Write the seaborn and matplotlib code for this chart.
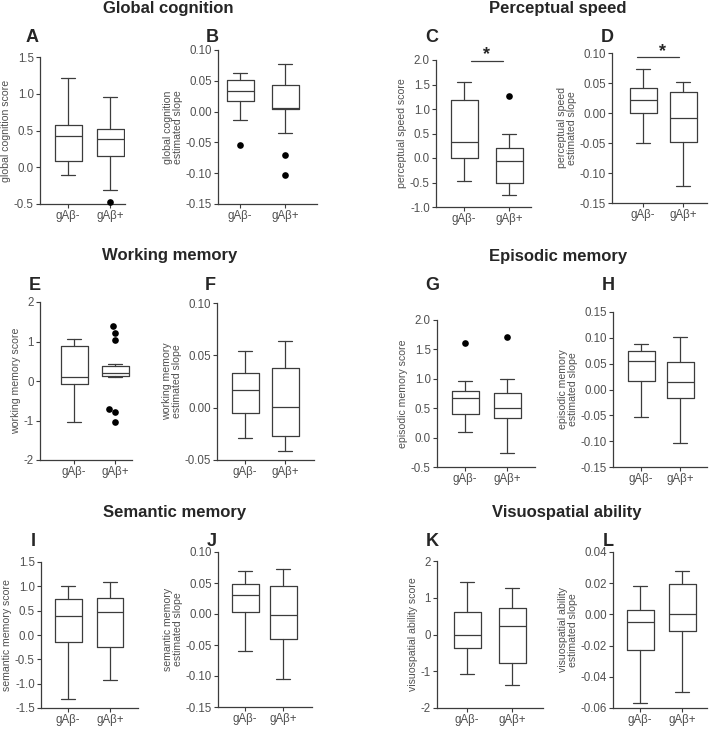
import matplotlib
matplotlib.use("Agg")
import matplotlib.pyplot as plt
import numpy as np
import pandas as pd
import seaborn as sns

# groups shown on every panel
groups = ["gAβ-", "gAβ+"]
panels = list("ABCDEFGHIJKL")

# box summaries: [gAβ-, gAβ+]
whislo = {"A": [-0.10, -0.31], "B": [-0.013, -0.034], "C": [-0.46, -0.75], "D": [-0.05, -0.122],
          "E": [-1.04, 0.11], "F": [-0.029, -0.041], "G": [0.10, -0.26], "H": [-0.054, -0.103],
          "I": [-1.31, -0.92], "J": [-0.059, -0.105], "K": [-1.07, -1.37], "L": [-0.057, -0.050]}
q1 = {"A": [0.08, 0.15], "B": [0.018, 0.004], "C": [0.0, -0.50], "D": [0.0, -0.048],
      "E": [-0.08, 0.13], "F": [-0.005, -0.027], "G": [0.40, 0.34], "H": [0.017, -0.017],
      "I": [-0.14, -0.25], "J": [0.003, -0.041], "K": [-0.36, -0.78], "L": [-0.0225, -0.0107]}
med = {"A": [0.42, 0.39], "B": [0.034, 0.006], "C": [0.32, -0.07], "D": [0.022, -0.008],
       "E": [0.10, 0.20], "F": [0.017, 0.001], "G": [0.67, 0.50], "H": [0.055, 0.014],
       "I": [0.40, 0.48], "J": [0.031, -0.002], "K": [0.0, 0.24], "L": [-0.005, 0.0]}
q3 = {"A": [0.57, 0.52], "B": [0.052, 0.043], "C": [1.18, 0.20], "D": [0.041, 0.035],
      "E": [0.88, 0.38], "F": [0.033, 0.038], "G": [0.79, 0.76], "H": [0.075, 0.053],
      "I": [0.73, 0.77], "J": [0.049, 0.045], "K": [0.60, 0.72], "L": [0.0028, 0.0193]}
whishi = {"A": [1.21, 0.96], "B": [0.062, 0.078], "C": [1.56, 0.49], "D": [0.073, 0.052],
          "E": [1.06, 0.44], "F": [0.054, 0.064], "G": [0.96, 1.00], "H": [0.089, 0.102],
          "I": [1.01, 1.08], "J": [0.070, 0.072], "K": [1.42, 1.26], "L": [0.0184, 0.0276]}
fliers = {"A": [[], [-0.47]], "B": [[-0.054], [-0.071, -0.103]], "C": [[], [1.27]],
          "E": [[], [1.38, 1.22, 1.05, -0.71, -0.78, -1.03]], "G": [[1.61], [1.71]]}

ylabels = {"A": "global cognition score", "B": "global cognition\nestimated slope",
           "C": "perceptual speed score", "D": "perceptual speed\nestimated slope",
           "E": "working memory score", "F": "working memory\nestimated slope",
           "G": "episodic memory score", "H": "episodic memory\nestimated slope",
           "I": "semantic memory score", "J": "semantic memory\nestimated slope",
           "K": "visuospatial ability score", "L": "visuospatial ability\nestimated slope"}
yticks = {"A": (-0.5, 1.5, 0.5, "%.1f"), "B": (-0.15, 0.10, 0.05, "%.2f"),
          "C": (-1.0, 2.0, 0.5, "%.1f"), "D": (-0.15, 0.10, 0.05, "%.2f"),
          "E": (-2, 2, 1, "%d"), "F": (-0.05, 0.10, 0.05, "%.2f"),
          "G": (-0.5, 2.0, 0.5, "%.1f"), "H": (-0.15, 0.15, 0.05, "%.2f"),
          "I": (-1.5, 1.5, 0.5, "%.1f"), "J": (-0.15, 0.10, 0.05, "%.2f"),
          "K": (-2, 2, 1, "%d"), "L": (-0.06, 0.04, 0.02, "%.2f")}
titles = ["Global cognition", "Perceptual speed", "Working memory",
          "Episodic memory", "Semantic memory", "Visuospatial ability"]

# layout in pixels: (left, top, right, bottom), box centres
W, H = 709, 730
rects = {"A": (40, 57, 125, 204), "B": (218, 50, 317, 204), "C": (436, 60, 531, 207),
         "D": (612, 53, 707, 203), "E": (40, 302, 132, 460), "F": (217, 303, 314, 460),
         "G": (437, 320, 535, 467), "H": (613, 312, 707, 467), "I": (41, 562, 138, 708),
         "J": (218, 552, 312, 707), "K": (437, 561, 543, 708), "L": (613, 552, 707, 708)}
centres = {"A": (68, 110), "B": (240, 285), "C": (464, 509), "D": (643, 683),
           "E": (74, 115), "F": (245, 285), "G": (465, 507), "H": (641, 680),
           "I": (68, 110), "J": (245, 283), "K": (467, 512), "L": (640, 682)}
title_pos = [(168, 9), (558, 9), (170, 255), (558, 256), (175, 512), (567, 512)]
letter_pos = {"A": (32, 37), "B": (212, 37), "C": (432, 37), "D": (607, 37),
              "E": (35, 285), "F": (210, 285), "G": (432, 285), "H": (608, 285),
              "I": (33, 542), "J": (212, 542), "K": (432, 542), "L": (608, 542)}

sns.set_style("ticks")
plt.rcParams["font.family"] = ["Liberation Sans", "DejaVu Sans"]
plt.rcParams["axes.unicode_minus"] = False

line_c = "#3c3c3c"
text_c = "#505050"

fig = plt.figure(figsize=(W / 100, H / 100), dpi=100)

for p in panels:
    l, t, r, b = rects[p]
    ax = fig.add_axes([l / W, 1 - b / H, (r - l) / W, (b - t) / H])
    c0, c1 = centres[p]
    unit = c1 - c0
    stats = []
    for i, g in enumerate(groups):
        stats.append(dict(label=g, whislo=whislo[p][i], q1=q1[p][i], med=med[p][i],
                          q3=q3[p][i], whishi=whishi[p][i], fliers=[]))
    bw = 27 / unit
    lp = dict(color=line_c, linewidth=0.9)
    ax.bxp(stats, positions=[0, 1], widths=bw, capwidths=bw * 0.5, showfliers=False,
           boxprops=lp, whiskerprops=lp, capprops=lp, medianprops=lp)
    if p in fliers:
        rows = [(g, v) for i, g in enumerate(groups) for v in fliers[p][i]]
        df = pd.DataFrame(rows, columns=["group", "value"])
        sns.swarmplot(data=df, x="group", y="value", order=groups, color="black",
                      size=4.8, ax=ax, linewidth=0)
        ax.collections[-1].set_clip_on(False)

    lo, hi, step, fmt = yticks[p]
    ax.set_ylim(lo, hi)
    ticks = np.arange(lo, hi + step / 2, step)
    ax.set_yticks(ticks)
    ax.set_yticklabels([fmt % v for v in ticks])
    ax.set_xlim((l - c0) / unit, (r - c0) / unit)
    ax.set_xticks([0, 1])
    ax.set_xticklabels(groups)
    ax.set_xlabel("")
    ax.set_ylabel(ylabels[p], fontsize=7.6, color=text_c, labelpad=2, linespacing=1.0)
    ax.tick_params(colors=line_c, labelcolor=text_c, labelsize=8.3, length=3, width=0.8, pad=1.5)
    for s in ["left", "bottom"]:
        ax.spines[s].set_color(line_c)
        ax.spines[s].set_linewidth(0.9)
    sns.despine(ax=ax)

    if p == "C":
        ax.plot([0.16, 0.87], [1.98, 1.98], color=line_c, lw=0.9, clip_on=False)
        ax.text(0.5, 2.12, "*", ha="center", va="center", fontsize=13, fontweight="bold")
    if p == "D":
        ax.plot([-0.15, 0.9], [0.093, 0.093], color=line_c, lw=0.9, clip_on=False)
        ax.text(0.48, 0.103, "*", ha="center", va="center", fontsize=13, fontweight="bold")

    x, y = letter_pos[p]
    fig.text(x / W, 1 - y / H, p, ha="center", va="center", fontsize=13, fontweight="bold")

for name, (x, y) in zip(titles, title_pos):
    fig.text(x / W, 1 - y / H, name, ha="center", va="center", fontsize=12, fontweight="bold")

fig.savefig("out.png", dpi=100)
